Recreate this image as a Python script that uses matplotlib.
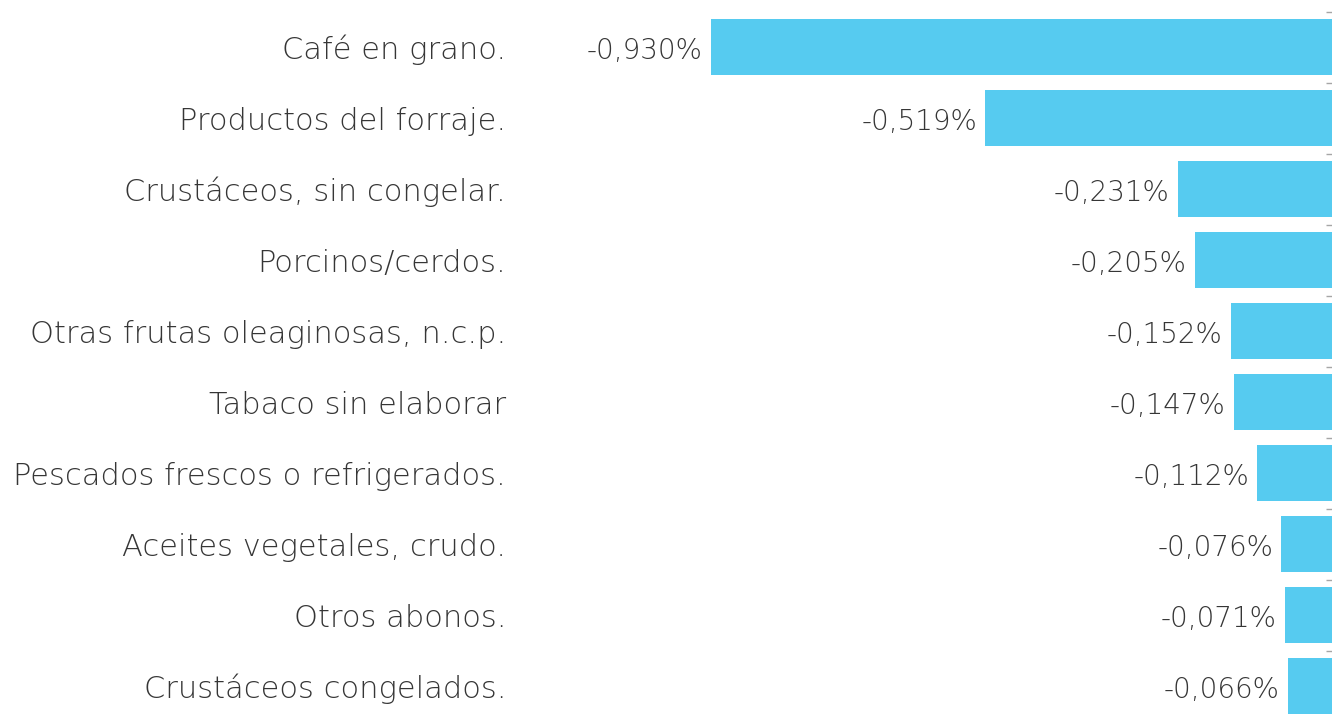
import numpy as np
import matplotlib.pyplot as plt

# datos
categorias = [
    "Café en grano.",
    "Productos del forraje.",
    "Crustáceos, sin congelar.",
    "Porcinos/cerdos.",
    "Otras frutas oleaginosas, n.c.p.",
    "Tabaco sin elaborar",
    "Pescados frescos o refrigerados.",
    "Aceites vegetales, crudo.",
    "Otros abonos.",
    "Crustáceos congelados.",
]
valores = [-0.930, -0.519, -0.231, -0.205, -0.152, -0.147, -0.112, -0.076, -0.071, -0.066]

plt.rcParams['font.family'] = ['DejaVu Sans']
plt.rcParams['font.weight'] = 200
gris = "#363636"
azul = "#56CBF0"

fig = plt.figure(figsize=(13.32, 7.15), dpi=100)
ax = fig.add_axes([520 / 1332, 0, 812 / 1332, 1])

y = np.arange(len(categorias))
ax.barh(y, valores, height=0.79, color=azul)

for yi, v in zip(y, valores):
    etiqueta = f"{v:.3f}".replace(".", ",") + "%"
    ax.text(v - 0.012, yi + 0.05, etiqueta, ha="right", va="center",
            fontsize=20, color=gris, fontweight=200)

ax.set_xlim(-812 / 667.7, 0)
ax.set_ylim(9.408, -0.662)

ax.set_yticks(y)
ax.set_yticklabels(categorias, fontsize=22, color=gris, fontweight=200)
ax.tick_params(axis="y", length=0, pad=10)
ax.set_xticks([])

# marcas pequeñas entre categorías, a la derecha
ax.set_yticks(np.arange(-0.5, len(categorias) - 0.5, 1), minor=True)
ax.tick_params(axis="y", which="minor", left=False, right=True,
               length=4, width=1, color="#a6a6a6", direction="in")

for s in ax.spines.values():
    s.set_visible(False)

plt.savefig("out.png", dpi=100)
